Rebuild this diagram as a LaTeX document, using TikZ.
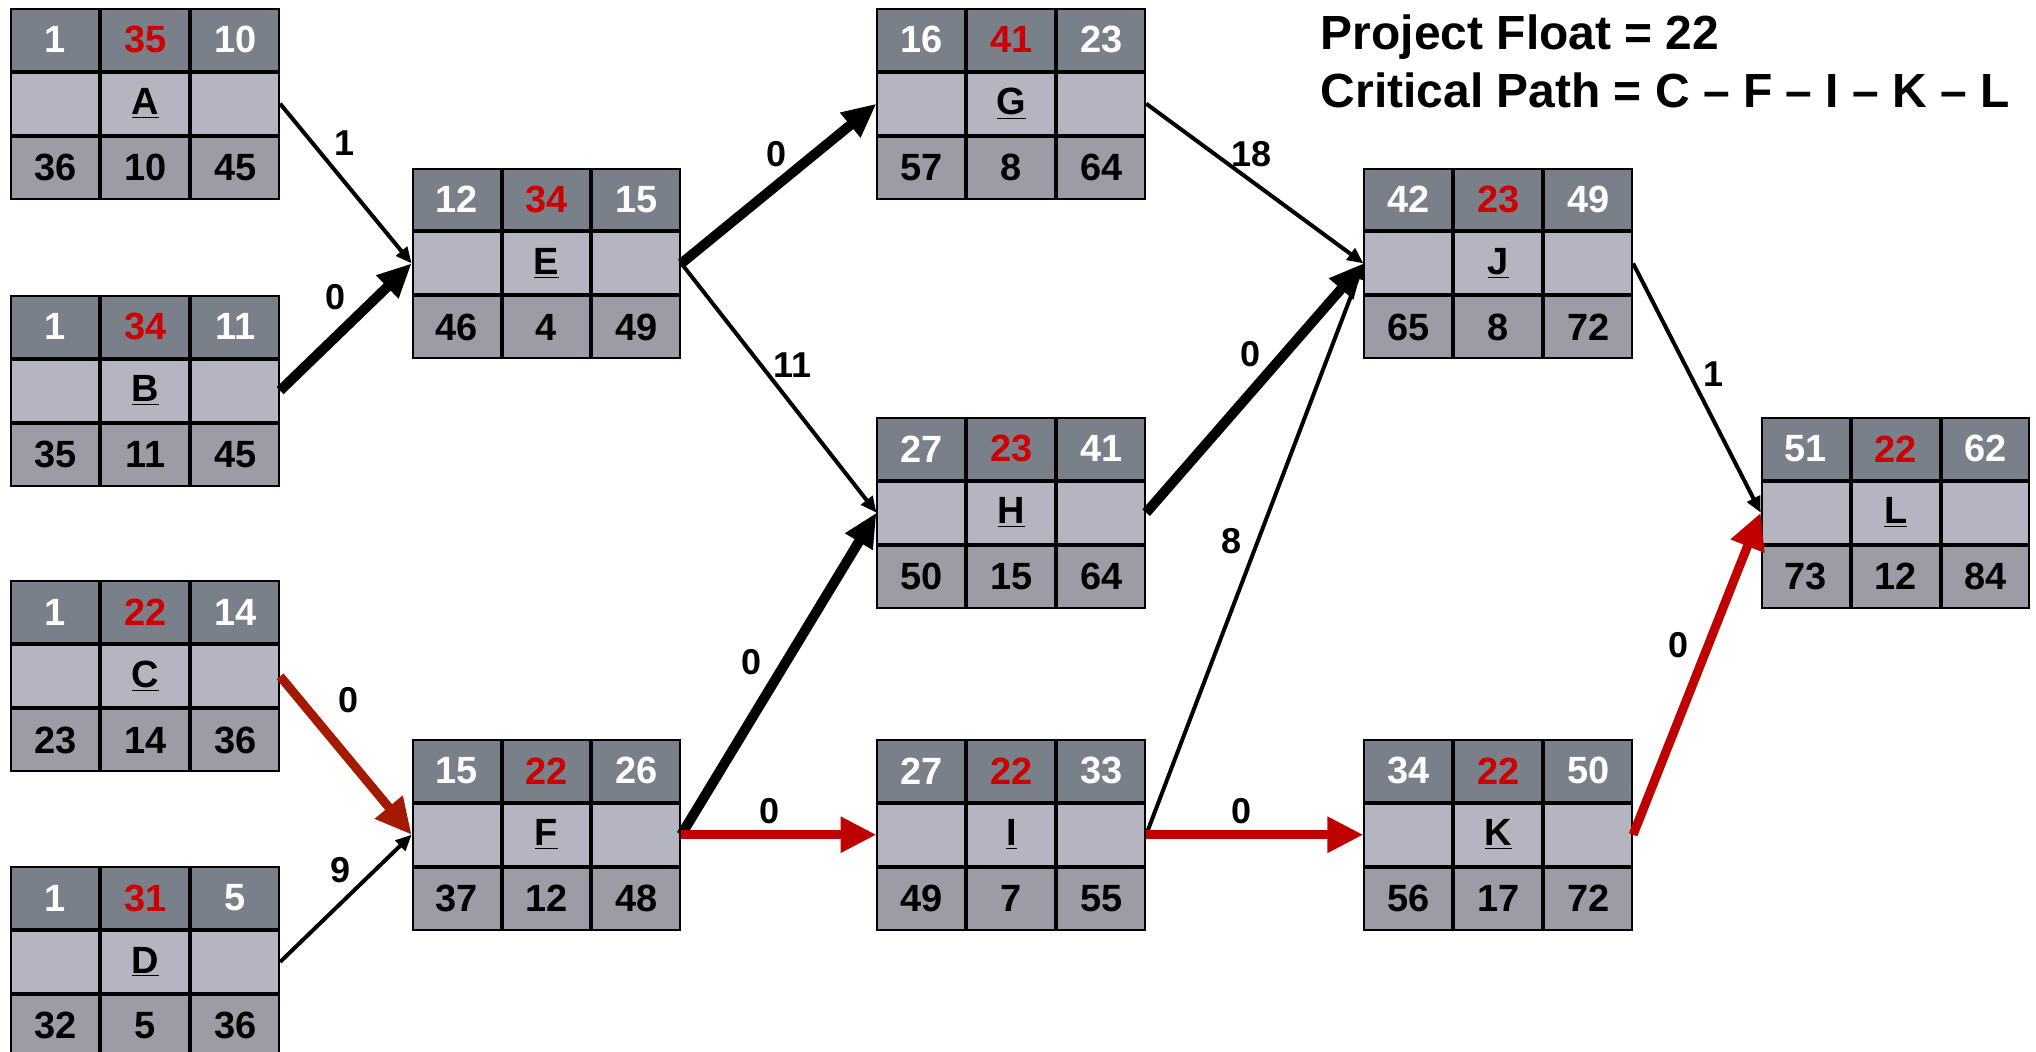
\documentclass[tikz,border=0pt]{standalone}
\usepackage{fontspec}
\setmainfont{Liberation Sans}
\usetikzlibrary{arrows.meta,matrix}
\definecolor{topgray}{RGB}{122,128,138}
\definecolor{midgray}{RGB}{181,181,193}
\definecolor{lowgray}{RGB}{155,156,166}
\definecolor{floatred}{RGB}{204,0,0}
\definecolor{pathred}{RGB}{192,0,0}
\definecolor{darkred}{RGB}{164,26,0}
\tikzset{cell/.style={draw=black,line width=1pt,minimum width=44pt,minimum height=31pt,inner sep=0pt,outer sep=0pt,anchor=center,font=\bfseries\fontsize{19}{19}\selectfont},
act/.style={matrix of nodes,nodes in empty cells,ampersand replacement=\&,column sep=0pt,row sep=0pt,inner sep=0pt,outer sep=0pt,anchor=north west,nodes={cell},
  row 1/.style={nodes={fill=topgray,text=white}},
  row 2/.style={nodes={fill=midgray,font=\bfseries\fontsize{19}{19}\selectfont}},
  row 3/.style={nodes={fill=lowgray}},
  row 1 column 2/.style={nodes={text=floatred}}},
dep/.style={-{Triangle[length=8pt,width=7pt]},line width=2pt},
heavy/.style={-{Triangle[length=17pt,width=15pt]},line width=5pt},
crit/.style={-{Triangle[length=18pt,width=17pt]},line width=4.5pt,draw=pathred},
lag/.style={font=\bfseries\fontsize{18}{18}\selectfont,inner sep=0pt},
headline/.style={font=\bfseries\fontsize{24}{29}\selectfont,anchor=base west,inner sep=0pt}}
% name, x, y, ES, float, EF, LS, duration, LF
\newcommand\actbox[9]{\matrix[act] (#1) at (#2,#3) {#4 \& #5 \& #6 \\ \& \underline{#1} \& \\ #7 \& #8 \& #9 \\};}

\begin{document}
\begin{tikzpicture}[x=0.65pt,y=-0.65pt]
\useasboundingbox (0,0) rectangle (1568,810);
\actbox{A}{8}{6}{1}{35}{10}{36}{10}{45}
\actbox{B}{8}{227}{1}{34}{11}{35}{11}{45}
\actbox{C}{8}{447}{1}{22}{14}{23}{14}{36}
\actbox{D}{8}{667}{1}{31}{5}{32}{5}{36}
\actbox{E}{317}{129}{12}{34}{15}{46}{4}{49}
\actbox{F}{317}{569}{15}{22}{26}{37}{12}{48}
\actbox{G}{675}{6}{16}{41}{23}{57}{8}{64}
\actbox{H}{675}{321}{27}{23}{41}{50}{15}{64}
\actbox{I}{675}{569}{27}{22}{33}{49}{7}{55}
\actbox{J}{1050}{129}{42}{23}{49}{65}{8}{72}
\actbox{K}{1050}{569}{34}{22}{50}{56}{17}{72}
\actbox{L}{1356}{321}{51}{22}{62}{73}{12}{84}
\node[headline] (pfloat) at (1017,38) {Project Float = 22};
\node[headline] (cpath) at (1017,83) {Critical Path = C – F – I – K – L};
% dependencies with lags
\draw[dep] (A.east) -- node[lag,pos=.49,shift={(0,-30)}] {1} (E.west);
\draw[heavy] (B.east) -- node[lag,pos=.42,shift={(0,-31)}] {0} (E.west);
\draw[crit,draw=darkred] (C.east) -- node[lag,pos=.3,shift={(22,-18)}] {0} (F.west);
\draw[dep] (D.east) -- node[lag,pos=.46,shift={(0,-26)}] {9} (F.west);
\draw[heavy] (E.east) -- node[lag,pos=.49,shift={(0,-24)}] {0} (G.west);
\draw[dep] (E.east) -- node[lag,pos=.57,shift={(0,-31)}] {11} (H.west);
\draw[heavy] (F.east) -- node[lag,pos=.537,shift={(-27,0)}] {0} (H.west);
\draw[crit] (F.east) -- node[lag,pos=.45,shift={(0,-18)}] {0} (I.west);
\draw[dep] (G.east) -- node[lag,pos=.485,shift={(0,-21)}] {18} (J.west);
\draw[heavy] (H.east) -- node[lag,pos=.48,shift={(0,-30)}] {0} (J.west);
\draw[dep] (I.east) -- node[lag,pos=.514,shift={(-20,0)}] {8} (J.west);
\draw[crit] (I.east) -- node[lag,pos=.44,shift={(0,-18)}] {0} (K.west);
\draw[dep] (J.east) -- node[lag,pos=.443,shift={(18,0)}] {1} (L.west);
\draw[crit] (K.east) -- node[lag,pos=.59,shift={(-23,0)}] {0} (L.west);
\end{tikzpicture}
\end{document}
